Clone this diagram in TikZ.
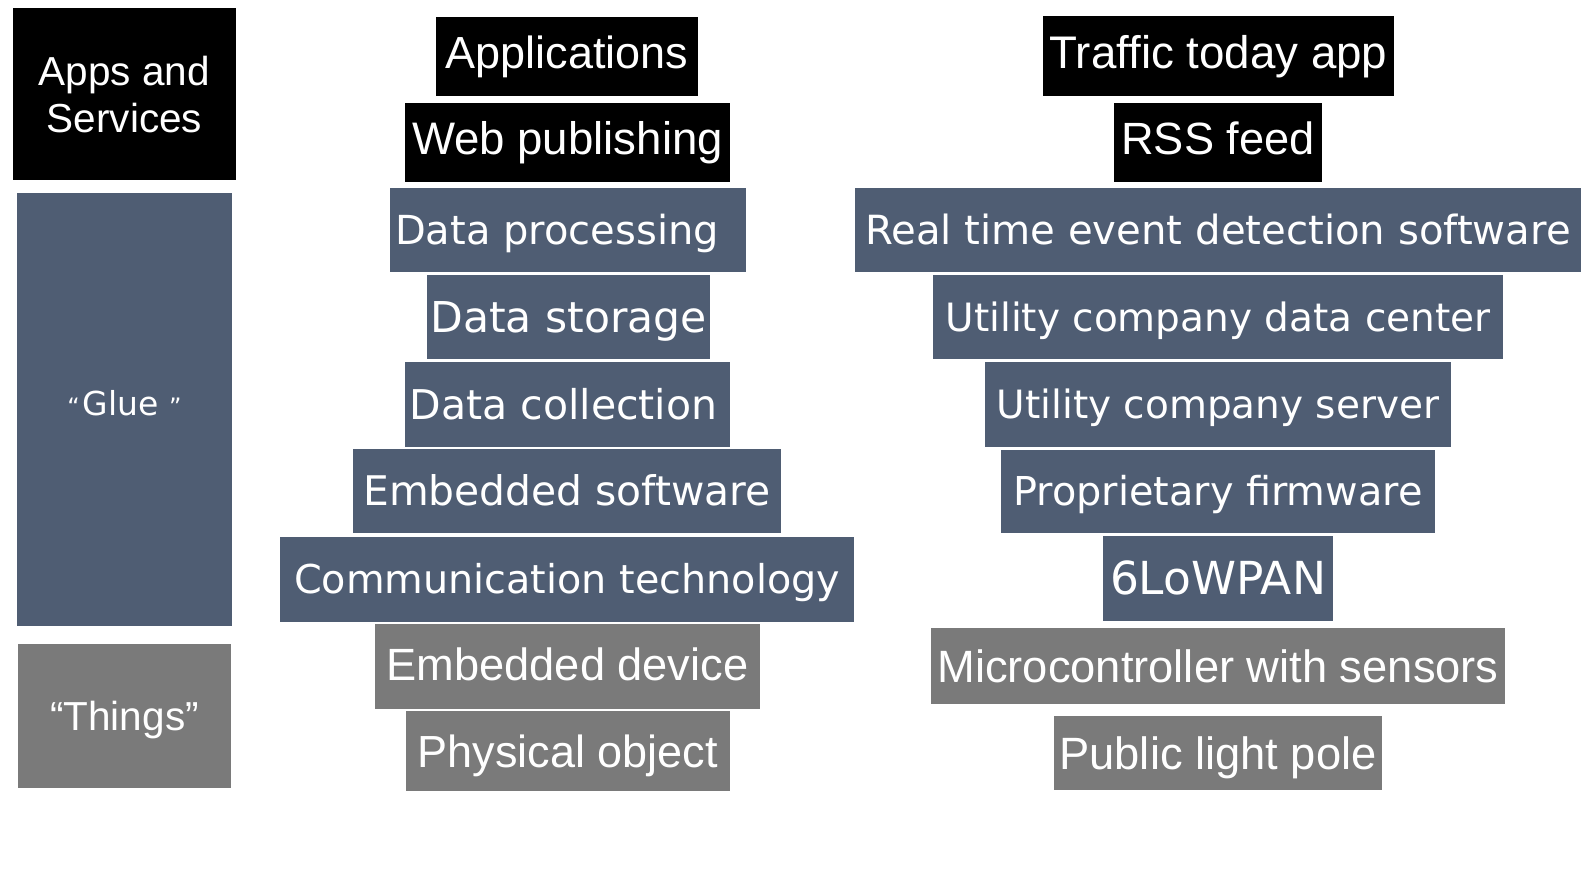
\documentclass[tikz,border=0pt]{standalone}
\usepackage{fontspec}
\newfontfamily\arialf{Liberation Sans}
\newfontfamily\dejavuf{DejaVu Sans}
\newcommand\fsz[1]{\fontsize{#1}{#1}\selectfont}
\definecolor{slate}{RGB}{79,93,115}
\definecolor{thinggray}{RGB}{122,122,122}
\tikzset{
  tierbox/.style={inner sep=0pt, outer sep=0pt, text=white, text depth=0pt},
  appbox/.style={tierbox, fill=black, font=\arialf},
  gluebox/.style={tierbox, fill=slate, font=\dejavuf},
  thingbox/.style={tierbox, fill=thinggray, font=\arialf},
}
% \tier{name}{style}{x1}{y1}{x2}{y2}{font size}{text}
\newcommand\tier[8]{%
  \node[#2, minimum width={#5pt-#3pt}, minimum height={#6pt-#4pt},
        text height={0.72*#7pt}]
    (#1) at ({(#3+#5)/2},{(#4+#6)/2}) {\fsz{#7}#8};}

\begin{document}
\begin{tikzpicture}[x=1pt,y=-1pt]
\useasboundingbox (0,0) rectangle (1596,890);
\fill[white] (0,0) rectangle (1596,890);

% left column: the three layers
\node[tierbox, fill=black, align=center,
      font=\arialf\fontsize{40.5}{47}\selectfont,
      minimum width=223pt, minimum height=172pt]
  (apps) at (124.5,94) {Apps and\\Services};
\tier{glue}{gluebox, text depth=11pt}{17}{193}{232}{626}{33}{{\fsz{24}“}\kern3pt Glue {\fsz{24}”}}
\tier{things}{thingbox}{18}{644}{231}{788}{40.5}{“Things”}

% middle column: generic stack
\tier{app}{appbox, text depth=8pt}{436}{17}{698}{96}{45}{Applications}
\tier{web}{appbox, text depth=8pt}{405}{103}{730}{182}{45.6}{Web publishing}
\tier{proc}{gluebox}{390}{188}{746}{272}{40}{Data processing\kern22pt}
\tier{stor}{gluebox}{427}{275}{710}{359}{42.5}{Data storage}
\tier{coll}{gluebox}{405}{362}{730}{447}{41}{Data collection\kern8pt}
\tier{emsw}{gluebox}{353}{449}{781}{533}{40.8}{Embedded software}
\tier{comm}{gluebox}{280}{537}{854}{622}{39.7}{Communication technology}
\tier{emdev}{thingbox, text depth=5pt}{375}{624}{760}{709}{45.2}{Embedded device}
\tier{phys}{thingbox}{406}{711}{730}{791}{45}{Physical object}

% right column: street light example
\tier{traffic}{appbox, text depth=8pt}{1043}{16}{1394}{96}{45.7}{Traffic today app}
\tier{rss}{appbox, text depth=8pt}{1114}{103}{1322}{182}{45.2}{RSS feed}
\tier{rted}{gluebox}{855}{188}{1581}{272}{40.2}{Real time event detection software}
\tier{udc}{gluebox}{933}{275}{1503}{359}{39}{Utility company data center}
\tier{ucs}{gluebox}{985}{362}{1451}{447}{39}{Utility company server}
\tier{fw}{gluebox}{1001}{450}{1435}{533}{39.8}{Proprietary firmware}
\tier{lowpan}{gluebox}{1103}{536}{1333}{621}{45.5}{6LoWPAN}
\tier{mcu}{thingbox}{931}{628}{1505}{704}{45.3}{Microcontroller with sensors}
\tier{pole}{thingbox}{1054}{716}{1382}{790}{45.3}{Public light pole}
\end{tikzpicture}
\end{document}
